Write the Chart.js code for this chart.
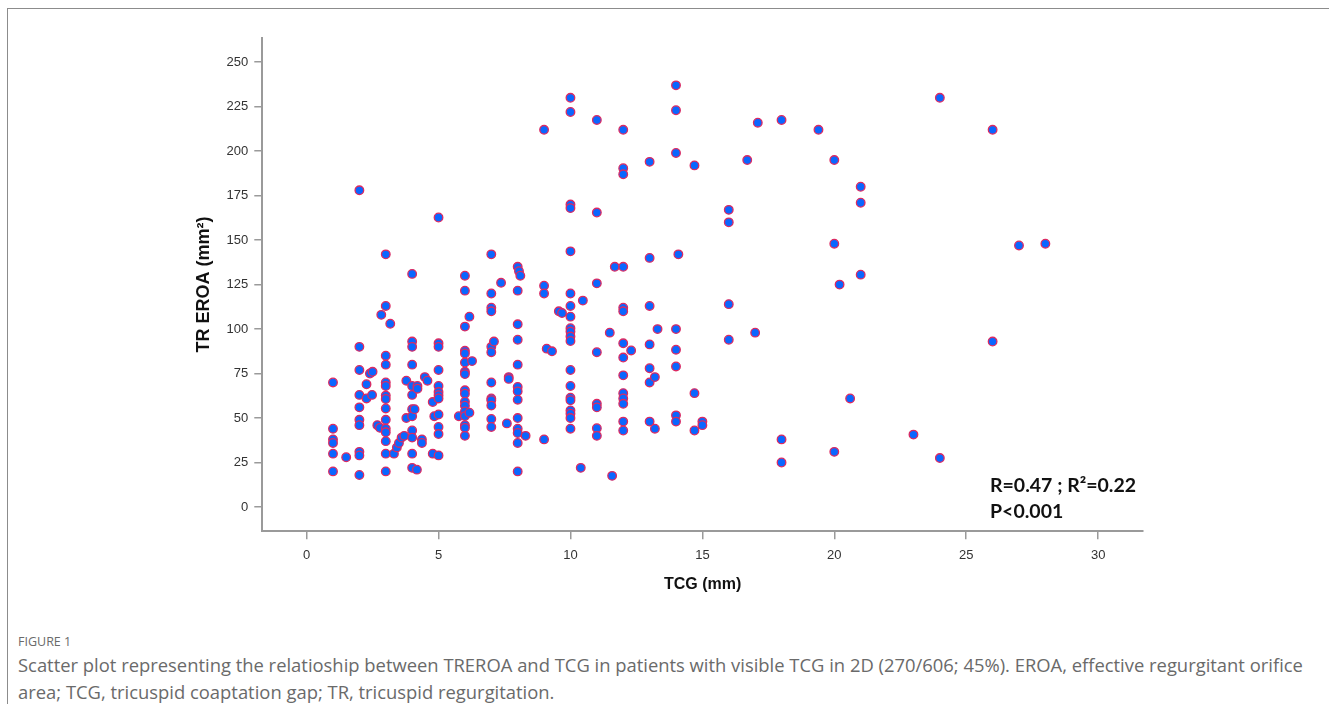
<!DOCTYPE html>
<html>
<head>
<meta charset="utf-8">
<script src="https://cdn.jsdelivr.net/npm/chart.js@4.4.1/dist/chart.umd.min.js"></script>
<style>
  html, body { margin: 0; padding: 0; background: #fff; width: 1329px; height: 704px; overflow: hidden; }
  #frame { position: absolute; left: 7px; top: 8px; width: 1400px; height: 800px; border-left: 1px solid #8c8c8c; border-top: 1px solid #8c8c8c; }
  #wrap { position: absolute; left: 0; top: 0; width: 1329px; height: 600px; }
  .stat { position: absolute; left: 990px; font-family: Lato, "Open Sans", sans-serif; font-weight: 700; font-size: 19.5px; color: #111; line-height: 19px; white-space: nowrap; }
  .fig { position: absolute; left: 18px; top: 634px; font-family: "Open Sans", sans-serif; font-size: 12.5px; color: #6a6a6a; line-height: 16px; }
  .cap { position: absolute; left: 18px; font-family: "Open Sans", sans-serif; font-size: 18.4px; color: #6a6a6a; line-height: 20px; white-space: nowrap; }
</style>
</head>
<body>
<div id="frame"></div>
<div id="wrap"><canvas id="c" width="1329" height="600"></canvas></div>
<div class="stat" style="top:475px;">R=0.47 ; R²=0.22</div>
<div class="stat" style="top:501px;">P&lt;0.001</div>
<div class="fig">FIGURE 1</div>
<div class="cap" style="top:655px;">Scatter plot representing the relatioship between TREROA and TCG in patients with visible TCG in 2D (270/606; 45%). EROA, effective regurgitant orifice</div>
<div class="cap" style="top:682px;">area; TCG, tricuspid coaptation gap; TR, tricuspid regurgitation.</div>
<script>
// TCG (mm) values, grouped by column
const tcg = [
  1,1,1,1,1,1,1.5,
  2,2,2,2,2,2,2,2,2,2,
  2.27,2.4,2.5,2.27,2.48,2.68,2.78,
  3,3,3,3,3,3,3,3,3,3,3,3,3,3,3,
  2.83,3.17,3.31,3.42,3.5,3.6,3.7,3.78,3.78,
  4,4,4,4,4,4,4,4,4,4,4,4,
  4.18,4.2,4.2,4.09,4.48,4.58,4.37,4.37,4.78,4.84,4.78,
  5,5,5,5,5,5,5,5,5,5,5,5,5.77,
  6,6,6,6,6,6,6,6,6,6,6,6,6,6,6,6,6,6.17,6.27,6.17,
  7,7,7,7,7,7,7,7,7,7,7,7,7.1,7.37,7.59,7.66,7.66,
  8,8.05,8.1,8,8,8,8,8,8,8,8,8,8,8,8,8.3,
  9,9,9,9,9.1,9.3,9.56,9.68,
  10,10,10,10,10,10,10,10,10,10,10,10,10,10,10,10,10,10,10,10,10.47,10.39,
  11,11,11,11,11,11,11,11,11.49,11.68,11.58,
  12,12,12,12,12,12,12,12,12,12,12,12,12,12,12.3,
  13,13,13,13,13,13,13,13.2,13.2,13.3,
  14,14,14,14.09,14,14,14,14,14,14.7,14.7,14.7,15,15,
  16,16,16,16,16.7,17,17.1,18,18,18,19.4,
  20,20,20,20.2,20.6,21,21,21,23,24,24,26,26,27,28
];
// TR EROA (mm²) values, same order
const eroa = [
  70,44,38,36,30,20,28,
  178,90,77,63,56,49,46,31,29,18,
  69,75,76,61,63,46,44.5,
  142,113,85,80,70,68,62.6,60.7,55.4,49,44,42,37,30,20,
  108,103,30,33.5,36,39,40,71,50,
  131,93,90,80,68,63,55,51,43,39,30,22,
  21,68,66.5,55,73,71,38,36,59,51,30,
  162.7,92,90,77,68,64.6,62.8,61,52,45,41,29,51,
  130,121.6,101.4,87.8,86.3,81.2,76,74.7,65.6,63.7,59.2,56.9,53.7,51.1,46,44.5,40,107,82,53,
  142,120,112,110,90,87,70,61,60,57,49.5,45,93,126,47,73,72,
  135,132.5,130,121.6,102.7,94,80,67.5,65,60.3,50,44,41.6,36,20,40,
  212,124.4,120,38,89,87.5,110,109,
  230,222,170,168,143.7,120,113,107,100.5,98.6,95.8,93.3,77,68,61.4,60,54.3,52.4,50,44,116,22,
  217.5,165.5,125.7,87,58,56,44.3,40,98,135,17.5,
  212,190.4,187,135,112,110,92,84,74,64,61,58,48,43,88,
  194,140,113,91.4,78,70,48,73,44,100,
  237,223,199,142,100,88.4,79,51.5,48,192,64,43,48,46,
  167,160,114,94,195,98,216,217.5,38,25,212,
  195,148,31,125,61,180,171,130.6,40.7,230,27.5,212,93,147,148
];
const xTicks = [0, 5, 10, 15, 20, 25, 30];
const yTicks = [0, 25, 50, 75, 100, 125, 150, 175, 200, 225, 250];

const points = tcg.map((x, i) => ({ x: x, y: eroa[i] }));
const axisColor = '#9a9a9a';
const tickFont = { family: 'Liberation Sans, Arial, sans-serif', size: 13 };

new Chart(document.getElementById('c'), {
  type: 'scatter',
  data: {
    datasets: [{
      data: points,
      pointRadius: 4.3,
      pointBackgroundColor: '#0a66ff',
      pointBorderColor: '#dc2a62',
      pointBorderWidth: 1.3,
      showLine: false
    }]
  },
  options: {
    responsive: false,
    animation: false,
    devicePixelRatio: 1,
    layout: { padding: { left: 189, right: 186, top: 38, bottom: 6 } },
    plugins: { legend: { display: false }, tooltip: { enabled: false } },
    scales: {
      x: {
        type: 'linear',
        min: -1.68, max: 31.7,
        afterBuildTicks: s => { s.ticks = xTicks.map(v => ({ value: v })); },
        grid: { display: true, drawOnChartArea: false, drawTicks: true, tickLength: 8, color: axisColor, lineWidth: 1.5 },
        border: { display: true, color: axisColor, width: 2 },
        ticks: { color: '#333', font: tickFont, padding: 8, maxRotation: 0, autoSkip: false },
        title: { display: true, text: 'TCG (mm)', color: '#111', font: { family: 'Liberation Sans, Arial, sans-serif', size: 16, weight: 'bold' }, padding: { top: 4, bottom: 0 } }
      },
      y: {
        type: 'linear',
        min: -13.6, max: 263.6,
        afterBuildTicks: s => { s.ticks = yTicks.map(v => ({ value: v })); },
        grid: { display: true, drawOnChartArea: false, drawTicks: true, tickLength: 8, color: axisColor, lineWidth: 1.5 },
        border: { display: true, color: axisColor, width: 2 },
        ticks: { color: '#333', font: tickFont, padding: 6, autoSkip: false },
        title: { display: true, text: 'TR EROA (mm²)', color: '#111', font: { family: 'Liberation Sans, Arial, sans-serif', size: 18, weight: 'bold' }, padding: { top: 4, bottom: 6 } }
      }
    }
  }
});
</script>
</body>
</html>
